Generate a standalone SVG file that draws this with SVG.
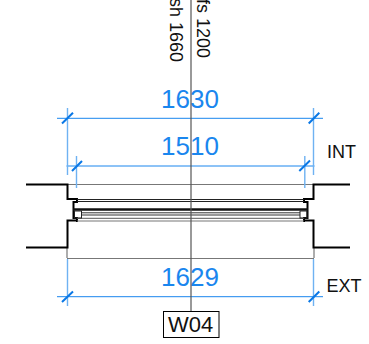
<svg xmlns="http://www.w3.org/2000/svg" width="369" height="344" viewBox="0 0 369 344">
<defs><style>
.dim{stroke:#1a86ee;stroke-width:1;fill:none}
.ext{stroke:#6fb2f2;stroke-width:1.4;fill:none}
.tick{stroke:#0a78e6;stroke-width:2;fill:none}
.dt{font-family:"Liberation Sans",Arial,sans-serif;font-size:26px;fill:#1a86ee;text-anchor:middle}
.lb{font-family:"Liberation Sans",Arial,sans-serif;font-size:18px;fill:#111}
.wall{stroke:#000;stroke-width:2;fill:none}
.thin{stroke:#222;stroke-width:1;fill:none}
.gr{stroke:#777;stroke-width:1.2;fill:none}
</style></defs>
<g id="section">
<path class="gr" d="M67 184.500H314M67 258.500H314M67 247V258M314 247V258"/>
<path class="wall" d="M26 184.500H67.500V199H77M26 247.500H67.500V220.500H77M350 184.500H313.500V199H304M350 247.500H313.500V220.500H304"/>
<path class="wall" d="M77 198V202H73.500V218H77V222M304 198V202H307.500V218H304V222"/>
<path class="thin" d="M77 199.500H304M77 201.500H304"/>
<path d="M73 209.500H308" stroke="#111" stroke-width="2.400" fill="none"/>
<path d="M82 212.800H300M82 215H300" stroke="#333" stroke-width="1" fill="none"/>
<path class="gr" d="M77 218.300H304M77 221H304"/>
<rect class="thin" x="74.500" y="211" width="7" height="7"/>
<rect class="thin" x="300" y="211" width="7" height="7"/>
</g>
<g id="dimensions">
<path class="dim" d="M57 118.300H323M66.500 166H314.500"/>
<path class="dim" d="M57 296.700H323"/>
<path class="ext" d="M67.500 108V175M76.500 156V188M313.500 108V175M304.800 156V188M67.500 259V306M313.500 259V306"/>
<path class="tick" d="M62 123.500L73 112.700M72 171L82 161M308.700 123.500L319.300 112.700M299.300 171L310 160.500M62 302L73 291.500M308.700 302L319.300 291.500"/>
<text class="dt" x="190" y="108.300">1630</text>
<text class="dt" x="190" y="155">1510</text>
<text class="dt" x="190" y="286">1629</text>
</g>
<g id="centerline"><path d="M191 0V311" stroke="#555" stroke-width="1.200" fill="none"/></g>
<g id="W04">
<rect x="163.500" y="311.500" width="55.500" height="26" fill="#fff" stroke="#000" stroke-width="1"/>
<text x="190.500" y="331.700" font-family="'Liberation Sans',Arial,sans-serif" font-size="22" fill="#111" text-anchor="middle">W04</text>
</g>
<g id="labels">
<text class="lb" x="327" y="158">INT</text>
<text class="lb" x="326.500" y="291.700">EXT</text>
<text class="lb" transform="translate(170 -2) rotate(90)">sh 1660</text>
<text class="lb" transform="translate(197 -1) rotate(90)">fs 1200</text>
</g>
</svg>
